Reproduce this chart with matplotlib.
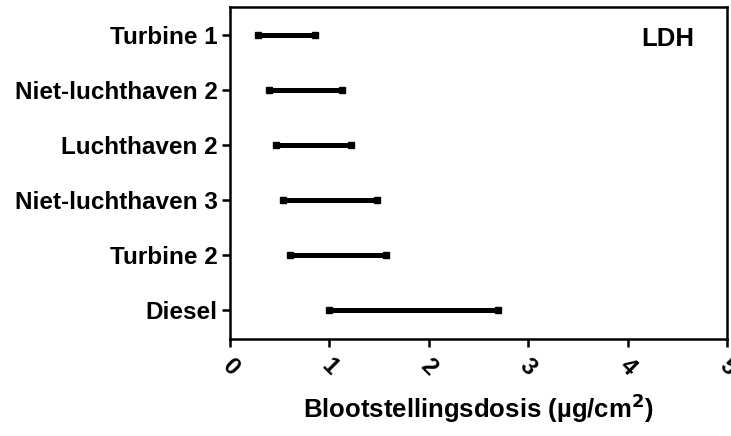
import matplotlib
matplotlib.use("Agg")
import matplotlib.pyplot as plt

categories = ["Diesel", "Turbine 2", "Niet-luchthaven 3", "Luchthaven 2",
              "Niet-luchthaven 2", "Turbine 1"]
low = [1.00, 0.60, 0.53, 0.46, 0.39, 0.28]
high = [2.70, 1.57, 1.48, 1.22, 1.13, 0.86]
xticks = [0, 1, 2, 3, 4, 5]

plt.rcParams['font.family'] = ['Liberation Sans', 'DejaVu Sans']
plt.rcParams['font.weight'] = 'bold'

fig = plt.figure(figsize=(7.31, 4.36), dpi=100)
ax = fig.add_axes([230/731, 1-339/436, 497/731, 332/436])

for i, (lo, hi) in enumerate(zip(low, high)):
    ax.plot([lo, hi], [i, i], color='black', lw=3.6, solid_capstyle='butt',
            marker='s', markersize=4.5, markevery=[0, 1])

ax.set_xlim(0, 5)
ax.set_ylim(-0.53, 5.51)
ax.set_yticks(range(len(categories)))
ax.set_yticklabels(categories, fontsize=17.5, fontweight='bold')
ax.set_xticks(xticks)
ax.set_xticklabels([str(t) for t in xticks], fontsize=17, fontweight='bold',
                   rotation=-45, ha='center', va='top')
for s in ax.spines.values():
    s.set_linewidth(1.8)
ax.tick_params(axis='both', width=1.8, length=6)
ax.tick_params(axis='y', pad=3)
ax.tick_params(axis='x', pad=5)
ax.set_xlabel("Blootstellingsdosis (µg/cm$^\\mathbf{2}$)", fontsize=18.5,
              fontweight='bold', labelpad=8)
ax.text(0.935, 0.905, "LDH", transform=ax.transAxes, fontsize=18.5,
        fontweight='bold', ha='right', va='center')

fig.savefig("out.png", dpi=100)
